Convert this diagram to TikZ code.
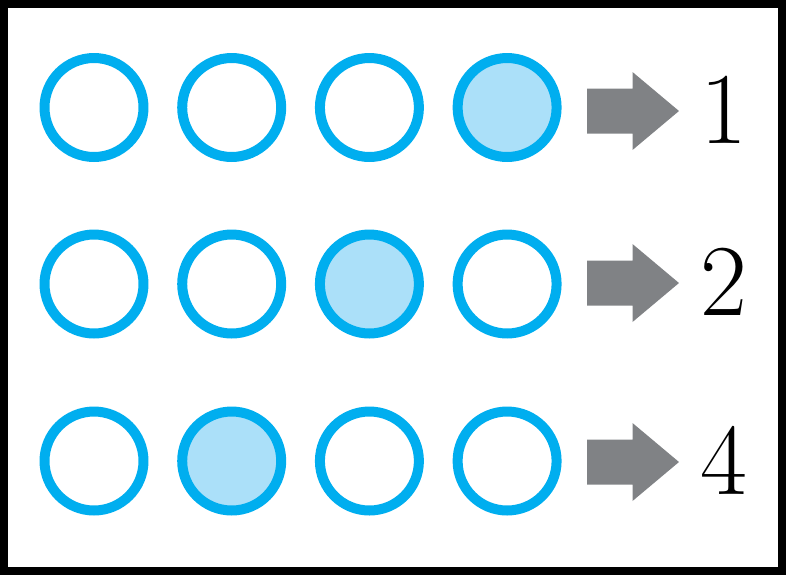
\documentclass[tikz,border=0pt]{standalone}
\usepackage{tikz}
\usetikzlibrary{shapes.arrows,positioning}
\definecolor{ringblue}{RGB}{0,174,239}
\definecolor{dotfill}{RGB}{171,224,249}
\definecolor{arrowgray}{RGB}{128,130,133}

\begin{document}
\begin{tikzpicture}
  [
  x=0.02cm, y=-0.02cm, line width=0.2cm,
  dotnode/.style={circle, inner sep=0pt, minimum size=1.98cm, draw=ringblue},
  arrownode/.style={single arrow, fill=arrowgray, draw=none, inner xsep=0pt, inner ysep=0.35cm,
    minimum height=1.84cm, single arrow head extend=0.33cm, single arrow tip angle=80, anchor=tail},
  numnode/.style={inner sep=0pt, anchor=base west, font=\fontsize{58}{60}\selectfont},
  ]
  \useasboundingbox (0,0) rectangle (786,575);
  \draw[line width=0.16cm] (4,4) rectangle (782,571);

  \foreach \r/\y/\ay/\f/\v in {1/107.5/111/4/1, 2/284/283/3/2, 3/461/462/2/4} {
    \foreach \c in {1,2,3,4} {
      \ifnum\c=\f\relax \def\fc{dotfill}\else\def\fc{white}\fi
      \node[dotnode, fill=\fc] (d\r\c) at ({94+137.7*(\c-1)},\y) {};
    }
    \node[arrownode] (a\r) at (582,\ay) {};
    \node[numnode] (n\r) at (695,{\ay+32}) {\v};
  }
\end{tikzpicture}
\end{document}
